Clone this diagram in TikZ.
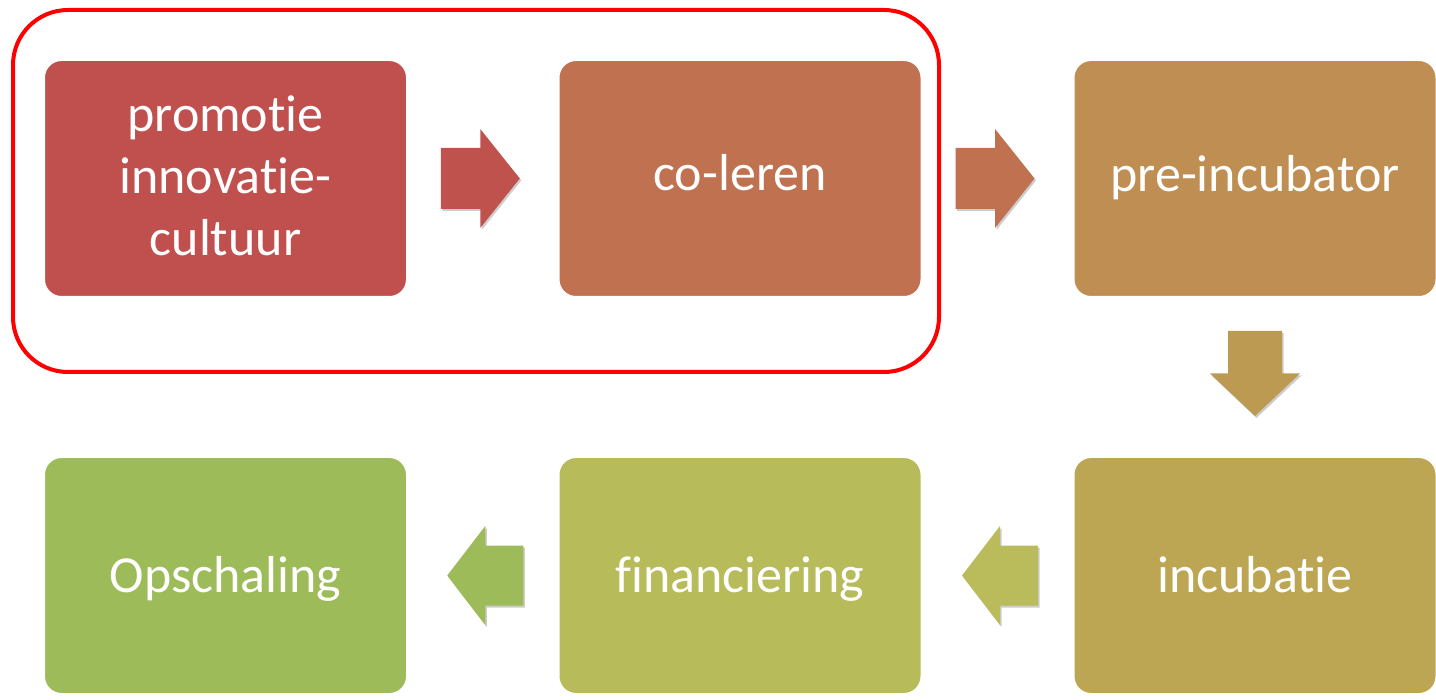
\documentclass[tikz,border=0pt]{standalone}
\usepackage{fontspec}
\setmainfont{Carlito}[Ligatures={NoCommon}, RawFeature={-liga;-clig;-dlig}]
\usetikzlibrary{shadows,calc}
\definecolor{cA}{RGB}{192,80,77}
\definecolor{cB}{RGB}{191,113,80}
\definecolor{cC}{RGB}{190,142,82}
\definecolor{cD}{RGB}{189,166,83}
\definecolor{cE}{RGB}{183,187,90}
\definecolor{cF}{RGB}{157,187,89}
\definecolor{aA}{RGB}{192,82,77}
\definecolor{aB}{RGB}{192,113,80}
\definecolor{aC}{RGB}{189,154,82}
\definecolor{aD}{RGB}{186,188,92}
\definecolor{aE}{RGB}{158,187,89}
\tikzset{
  stepbox/.style={draw=white, line width=7pt, rounded corners=20pt,
    minimum width=368pt, minimum height=242pt, inner sep=0pt,
    drop shadow={shadow xshift=0.5pt, shadow yshift=-3pt, opacity=0.3, fill=black}},
  steptext/.style={text=white, font=\fontsize{52}{62}\selectfont, align=center,
    inner sep=0pt, anchor=base},
  blockarrow/.style={drop shadow={shadow xshift=1.5pt, shadow yshift=-2pt, opacity=0.2, fill=black}},
  frame/.style={draw=red, line width=4pt, rounded corners=55pt}
}
\begin{document}
\begin{tikzpicture}[x=1pt,y=-1pt]
\useasboundingbox (0,0) rectangle (1436,700);
\fill[white] (0,0) rectangle (1436,700);
% boxes
\node[stepbox, fill=cA] (b1) at (225.5,178.5) {};
\node[stepbox, fill=cB] (b2) at (740,178.5) {};
\node[stepbox, fill=cC] (b3) at (1255,178.5) {};
\node[stepbox, fill=cD] (b4) at (1255,575.5) {};
\node[stepbox, fill=cE] (b5) at (740,575.5) {};
\node[stepbox, fill=cF] (b6) at (225.5,575.5) {};
% texts
\node[steptext] (t1) at ($(b1.center)+(0,77.5)$) {promotie\\innovatie-\\cultuur};
\node[steptext] (t2) at ($(b2.center)+(0,12.5)$) {co-leren};
\node[steptext] (t3) at ($(b3.center)+(0,13.5)$) {pre-incubator};
\node[steptext] (t4) at ($(b4.center)+(0,17)$) {incubatie};
\node[steptext] (t5) at ($(b5.center)+(0,17)$) {financiering};
\node[steptext] (t6) at ($(b6.center)+(0,17)$) {Opschaling};
% block arrow centres between the boxes
\coordinate (a1) at ($($(b1.east)!0.5!(b2.west)$)+(-2.5,0)$);
\coordinate (a2) at ($($(b2.east)!0.5!(b3.west)$)+(-2.5,0)$);
\coordinate (a3) at ($($(b3.south)!0.5!(b4.north)$)+(0,-3.5)$);
\coordinate (a4) at ($($(b4.west)!0.5!(b5.east)$)+(2.5,0)$);
\coordinate (a5) at ($($(b5.west)!0.5!(b6.east)$)+(2.5,0)$);
% right arrows
\begin{scope}[shift={(a1)}]
  \fill[aA, blockarrow] (-39.5,-30.5) -- (0,-30.5) -- (0,-49.5) -- (39.5,0)
    -- (0,49.5) -- (0,30.5) -- (-39.5,30.5) -- cycle;
\end{scope}
\begin{scope}[shift={(a2)}]
  \fill[aB, blockarrow] (-39.5,-30.5) -- (0,-30.5) -- (0,-49.5) -- (39.5,0)
    -- (0,49.5) -- (0,30.5) -- (-39.5,30.5) -- cycle;
\end{scope}
% down arrow
\begin{scope}[shift={(a3)}]
  \fill[aC, blockarrow] (-27,-42.5) -- (27,-42.5) -- (27,0) -- (45,0) -- (0,42.5)
    -- (-45,0) -- (-27,0) -- cycle;
\end{scope}
% left arrows
\begin{scope}[shift={(a4)}]
  \fill[aD, blockarrow] (38,-30) -- (-0,-30) -- (0,-49.5) -- (-38,0)
    -- (0,49.5) -- (0,30) -- (38,30) -- cycle;
\end{scope}
\begin{scope}[shift={(a5)}]
  \fill[aE, blockarrow] (38,-30) -- (-0,-30) -- (0,-49.5) -- (-38,0)
    -- (0,49.5) -- (0,30) -- (38,30) -- cycle;
\end{scope}
% red frame around first two steps
\draw[frame] (13,10) rectangle (939,372);
\end{tikzpicture}
\end{document}
